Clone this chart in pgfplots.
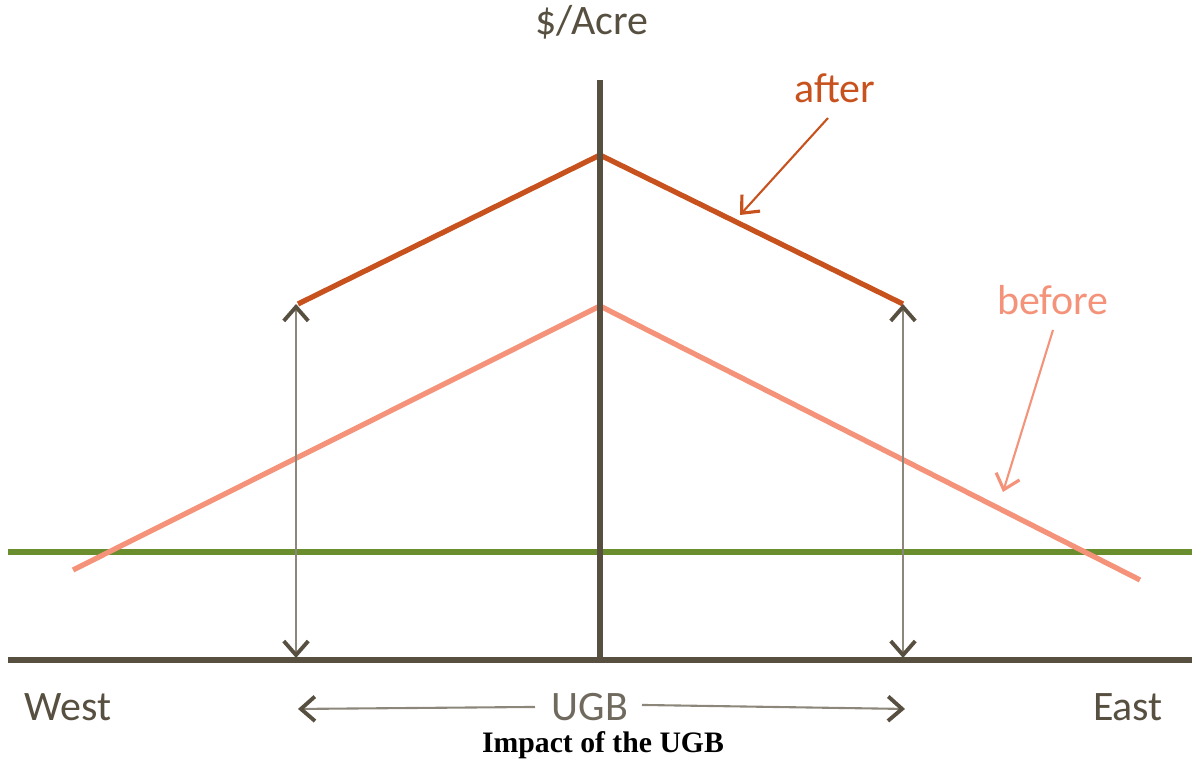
\documentclass[border=0pt]{standalone}
\usepackage{pgfplots}
\pgfplotsset{compat=1.18}
\usetikzlibrary{arrows.meta}
\usepackage{fontspec}
\setmainfont{Carlito}
\newfontfamily\capfont{Liberation Serif}
\definecolor{axc}{HTML}{575041}
\definecolor{grn}{HTML}{6A8E2E}
\definecolor{aft}{HTML}{C8521E}
\definecolor{bef}{HTML}{F4937A}
\definecolor{thinc}{HTML}{8C877A}
\begin{document}
\begin{tikzpicture}
\begin{axis}[
  width=12cm, height=7.688cm, scale only axis,
  xmin=0, xmax=1194, ymin=0, ymax=765,
  hide axis, clip=false,
  every axis plot/.append style={no marks},
]
% green line
\addplot[grn, line width=1.6pt] coordinates {(8,213) (1192,213)};
% before
\addplot[bef, line width=1.5pt] coordinates {(73,195) (600,459) (1140,185)};
% after
\addplot[aft, line width=1.5pt] coordinates {(298,461) (600,610) (903,461)};
% axes
\addplot[axc, line width=1.9pt] coordinates {(8,105) (1192,105)};
\addplot[axc, line width=1.9pt] coordinates {(600,685) (600,105)};
% double arrows
\addplot[thinc, line width=0.6pt, {Straight Barb[length=4pt,width=7pt,line width=1.1pt,color=axc]}-{Straight Barb[length=4pt,width=7pt,line width=1.1pt,color=axc]}] coordinates {(296,461) (296,107)};
\addplot[thinc, line width=0.6pt, {Straight Barb[length=4pt,width=7pt,line width=1.1pt,color=axc]}-{Straight Barb[length=4pt,width=7pt,line width=1.1pt,color=axc]}] coordinates {(903,461) (903,107)};
% UGB arrows
\addplot[thinc, line width=0.6pt, -{Straight Barb[length=4pt,width=7pt,line width=1.1pt,color=axc]}] coordinates {(535,58) (298,56)};
\addplot[thinc, line width=0.6pt, -{Straight Barb[length=4pt,width=7pt,line width=1.1pt,color=axc]}] coordinates {(642,60) (905,56)};
% annotation arrows
\addplot[aft, line width=0.6pt, -{Straight Barb[length=4pt,width=7pt,line width=0.9pt]}] coordinates {(828,647) (740,550)};
\addplot[bef, line width=0.6pt, -{Straight Barb[length=4pt,width=7pt,line width=0.9pt]}] coordinates {(1053,435) (1003,273)};
% labels
\tikzset{lbl/.style={inner sep=0pt, font=\fontsize{12}{14}\selectfont}}
\node[lbl, text=axc] at (axis cs:592,743) {\$/Acre};
\node[lbl, text=aft] at (axis cs:835,677) {after};
\node[lbl, text=bef] at (axis cs:1053,465) {before};
\node[lbl, text=axc] at (axis cs:68,58) {West};
\node[lbl, text=axc!85] at (axis cs:590,58) {UGB};
\node[lbl, text=axc] at (axis cs:1128,58) {East};
\node[inner sep=0pt, text=black, font=\capfont\bfseries\fontsize{8.5}{10}\selectfont] at (axis cs:603,20) {Impact of the UGB};
\end{axis}
\pgfresetboundingbox
\path[use as bounding box] (0,0) rectangle (12cm,7.688cm);
\end{tikzpicture}
\end{document}
